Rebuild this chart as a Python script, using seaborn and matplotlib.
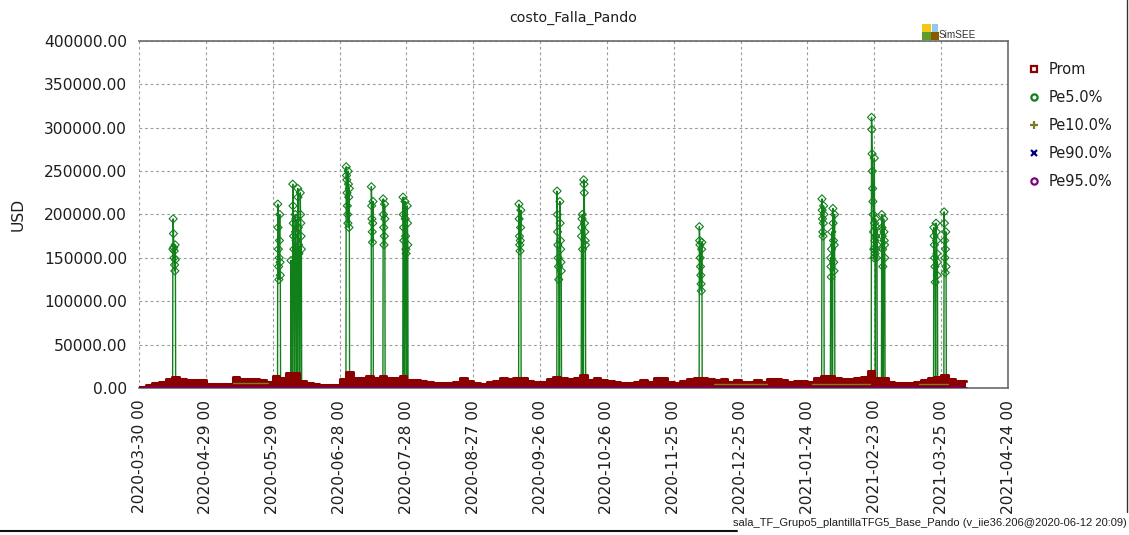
import numpy as np
import pandas as pd
import matplotlib
matplotlib.use("Agg")
import matplotlib.pyplot as plt
import matplotlib.dates as mdates
from matplotlib.lines import Line2D
from matplotlib.patches import Rectangle
from matplotlib.ticker import FuncFormatter
import seaborn as sns

sns.set_theme(style="white")
plt.rcParams["font.family"] = ["DejaVu Sans"]

# ---------------------------------------------------------------- data
title = "costo_Falla_Pando"
y_label = "USD"
run_tag = "sala_TF_Grupo5_plantillaTFG5_Base_Pando (v_iie36.206@2020-06-12 20:09)"
series_labels = ["Prom", "Pe5.0%", "Pe10.0%", "Pe90.0%", "Pe95.0%"]

series_start = "2020-03-30"
series_end = "2021-04-05"
axis_end = "2021-04-24"

# mean failure cost, one level per 3-day block (USD)
prom_step_days = 3
prom_usd = [
    1500, 3500, 5400, 6500, 10000, 12700, 10000, 9500, 9000, 9500,
    5000, 4200, 4200, 4500, 12700, 10000, 10000, 10000, 9000, 7000,
    13800, 11000, 17600, 17600, 8000, 6000, 4500, 4000, 4000, 4000,
    10000, 18000, 11000, 12000, 14000, 11000, 14000, 11000, 12000, 14000,
    9000, 9200, 8000, 7300, 6000, 5400, 6000, 7300, 11000, 8000,
    5400, 4200, 6500, 8000, 12000, 10400, 12000, 11000, 8000, 7300,
    6500, 10400, 13000, 12000, 10000, 12000, 15000, 9000, 11000, 9000,
    8000, 7300, 6000, 6000, 6500, 9000, 7300, 12000, 11000, 7300,
    5400, 8000, 10000, 11000, 12000, 10400, 9000, 10400, 6500, 9000,
    6500, 7300, 9000, 7300, 10000, 10000, 9000, 7300, 8000, 8000,
    6500, 12000, 14000, 14000, 12000, 10400, 10400, 11000, 13000, 20000,
    12000, 11000, 7300, 5400, 5400, 5400, 7300, 9000, 12000, 13000,
    15000, 10400, 8500, 8500,
]

# Pe5.0% failure-cost bursts: start of each burst and its values every 3 hours
pe5_step_hours = 3
pe5_starts = [
    "2020-04-14 05:00", "2020-05-31 07:00", "2020-06-06 05:00", "2020-06-07 00:00",
    "2020-07-01 00:00", "2020-07-12 07:00", "2020-07-17 14:00", "2020-07-26 12:00",
    "2020-09-16 12:00", "2020-10-03 15:00", "2020-10-14 14:00", "2020-12-06 12:00",
    "2021-01-30 12:00", "2021-02-03 10:00", "2021-02-21 18:00", "2021-02-23 14:00",
    "2021-02-26 08:00", "2021-03-21 17:00", "2021-03-26 08:00",
]
pe5_bursts = [
    [160000, 195000, 178000, 162000, 150000, 158000, 142000, 135000, 165000, 148000],
    [212000, 185000, 160000, 140000, 125000, 150000, 170000, 200000, 145000, 130000],
    [147000],
    [235000, 210000, 190000, 175000, 160000, 0, 0, 0, 0,
     200000, 180000, 195000, 170000, 150000, 0, 0, 0, 0,
     230000, 220000, 185000, 165000, 155000, 0, 0, 0, 0,
     225000, 200000, 190000, 175000, 160000],
    [255000, 245000, 240000, 225000, 210000, 200000, 190000, 250000, 235000, 220000, 185000, 230000],
    [232000, 210000, 195000, 180000, 168000, 190000, 215000],
    [218000, 200000, 185000, 165000, 175000, 212000, 195000],
    [220000, 200000, 185000, 170000, 0, 0, 0, 215000, 195000, 175000, 160000, 155000,
     0, 0, 0, 210000, 190000, 165000],
    [212000, 195000, 175000, 165000, 158000, 170000, 185000, 205000],
    [227000, 200000, 180000, 165000, 150000, 140000, 125000, 0, 0, 0,
     215000, 190000, 170000, 160000, 145000, 135000],
    [175000, 185000, 195000, 200000, 160000, 0, 0, 0,
     240000, 235000, 225000, 190000, 180000, 170000, 165000],
    [186000, 170000, 165000, 150000, 140000, 130000, 120000, 112000, 160000, 168000],
    [218000, 205000, 195000, 180000, 175000, 190000, 210000, 200000],
    [150000, 140000, 128000, 160000, 180000, 0, 0, 0,
     207000, 190000, 170000, 145000, 135000, 165000, 200000],
    [312000, 298000, 270000, 250000, 230000, 215000, 200000, 180000, 160000, 150000,
     265000, 190000, 170000, 155000],
    [195000, 175000, 160000, 150000, 185000, 165000],
    [200000, 185000, 175000, 160000, 140000, 0, 0,
     195000, 180000, 170000, 165000, 150000],
    [185000, 175000, 165000, 150000, 140000, 122000, 0, 0,
     190000, 180000, 170000, 155000, 130000, 145000],
    [203000, 190000, 170000, 150000, 133000, 160000, 180000, 140000],
]

# Pe10.0%: periods with a non-zero level
pe10_starts = ["2020-05-11", "2020-12-13", "2021-01-26", "2021-03-15"]
pe10_ends = ["2020-05-27", "2021-01-06", "2021-02-21", "2021-03-28"]
pe10_levels = [5500, 5000, 4500, 4500]

# Pe90.0% and Pe95.0% stay at zero over the whole horizon
pe90_usd = [0, 0]
pe95_usd = [0, 0]

# ---------------------------------------------------------------- styling
RED = "#8b0000"
GREEN = "#11801a"
OLIVE = "#7d7d20"
NAVY = "#000080"
PURPLE = "#800080"
GRID = "#9c9c9c"
FRAME = "#6b6b6b"
TXT = "#1e1e1e"

W, H, DPI = 1129, 535, 100
fig = plt.figure(figsize=(W / DPI, H / DPI), dpi=DPI)
ax = fig.add_axes([139 / W, 1 - 388 / H, (1008 - 139) / W, (388 - 41) / H])

t0 = pd.Timestamp(series_start)
t_end = pd.Timestamp(series_end)

# Pe5.0% frame (zero between bursts)
rows = [(t0, 0.0)]
step = pd.Timedelta(hours=pe5_step_hours)
for start, vals in zip(pe5_starts, pe5_bursts):
    ts = pd.Timestamp(start)
    rows.append((ts - step, 0.0))
    for k, v in enumerate(vals):
        rows.append((ts + k * step, float(v)))
    rows.append((ts + len(vals) * step, 0.0))
rows.append((t_end, 0.0))
pe5 = pd.DataFrame(rows, columns=["time", "usd"]).sort_values("time")

sns.lineplot(data=pe5, x="time", y="usd", color=GREEN, lw=1.0,
             estimator=None, sort=False, ax=ax, zorder=2)
pe5_hi = pe5[pe5["usd"] > 0]
sns.scatterplot(data=pe5_hi, x="time", y="usd", marker="D", s=17,
                facecolor="none", edgecolor=GREEN, linewidth=0.8,
                ax=ax, zorder=3)

# Prom as stepped area
prom_t = pd.date_range(t0, periods=len(prom_usd), freq=f"{prom_step_days}D")
prom = pd.DataFrame({"time": list(prom_t) + [t_end],
                     "usd": prom_usd + [prom_usd[-1]]})
ax.fill_between(prom["time"], prom["usd"], step="post", color=RED, lw=0, zorder=4)
sns.lineplot(data=prom, x="time", y="usd", color=RED, lw=2.2,
             drawstyle="steps-post", estimator=None, ax=ax, zorder=4)

# Pe10.0%: zero baseline plus its raised stretches, each drawn as its own run
p10_rows = [(t0, 0.0, 0), (t_end, 0.0, 0)]
for i, (s, e, lv) in enumerate(zip(pe10_starts, pe10_ends, pe10_levels), start=1):
    p10_rows += [(pd.Timestamp(s), float(lv), i), (pd.Timestamp(e), float(lv), i)]
pe10 = pd.DataFrame(p10_rows, columns=["time", "usd", "run"])
sns.lineplot(data=pe10, x="time", y="usd", units="run", color=OLIVE, lw=1.0,
             estimator=None, ax=ax, zorder=5)

# Pe90.0% / Pe95.0%
flat = pd.DataFrame({"time": [t0, t_end], "p90": pe90_usd, "p95": pe95_usd})
sns.lineplot(data=flat, x="time", y="p90", color=NAVY, lw=1.5, ax=ax, zorder=5)
sns.lineplot(data=flat, x="time", y="p95", color=PURPLE, lw=2.0, ax=ax, zorder=6)

# ---------------------------------------------------------------- axes
ax.set_xlim(t0, pd.Timestamp(axis_end))
ax.set_ylim(0, 400000)
ax.set_xticks(pd.date_range(t0, axis_end, freq="30D"))
ax.xaxis.set_major_formatter(mdates.DateFormatter("%Y-%m-%d %H"))
ax.set_yticks(np.arange(0, 400001, 50000))
ax.yaxis.set_major_formatter(FuncFormatter(lambda v, p: f"{v:.2f}"))
ax.tick_params(axis="both", length=0, labelsize=11.2, colors=TXT, pad=8.5)
plt.setp(ax.get_xticklabels(), rotation=90, va="top", ha="center")

ax.grid(True, color=GRID, linestyle=(0, (2.5, 2.5)), lw=0.8)
ax.set_axisbelow(True)
for side in ("top", "right", "bottom"):
    ax.spines[side].set_color(FRAME)
    ax.spines[side].set_linewidth(1.2)
ax.spines["left"].set_visible(False)

ax.set_xlabel("")
ax.set_ylabel(y_label, fontsize=11.2, color=TXT)
ax.yaxis.set_label_coords(-0.131, 0.5)
ax.set_title(title, fontsize=10.2, color=TXT, pad=13.5)

# legend (markers only)
handles = [
    Line2D([], [], ls="none", marker="s", ms=4.5, mfc="none", mec=RED, mew=1.6),
    Line2D([], [], ls="none", marker="o", ms=4.5, mfc="none", mec=GREEN, mew=1.6),
    Line2D([], [], ls="none", marker="+", ms=6, mec=OLIVE, mew=1.6),
    Line2D([], [], ls="none", marker="x", ms=5, mec=NAVY, mew=1.6),
    Line2D([], [], ls="none", marker="o", ms=4.5, mfc="none", mec=PURPLE, mew=1.6),
]
fig.legend(handles, series_labels, loc="upper left",
           bbox_to_anchor=(1015.5 / W, 1 - 48.5 / H), frameon=False,
           fontsize=10.5, handlelength=0.8, handletextpad=0.6,
           labelspacing=0.9, borderpad=0.4, labelcolor=TXT)

# SimSEE badge above the frame
for (x0, y0, x1, y1, c) in [(922, 24, 931, 31.7, "#f6c617"),
                            (932, 24, 938, 31.7, "#8ec9ef"),
                            (922, 32.3, 931, 40, "#5a9e2a"),
                            (931, 32.3, 939, 40, "#8a5a00")]:
    fig.add_artist(Rectangle((x0 / W, 1 - y1 / H), (x1 - x0) / W, (y1 - y0) / H,
                             transform=fig.transFigure, color=c, lw=0))
fig.text(939 / W, 1 - 40.5 / H, "SimSEE", fontsize=7.2, color="#333333",
         ha="left", va="bottom", family=["Liberation Sans"])

# window frame lines and run tag
fig.add_artist(Line2D([1127 / W, 1127 / W], [1, 1 - 512 / H],
                      transform=fig.transFigure, color="#333333", lw=1.0))
fig.add_artist(Line2D([0, 737 / W], [1 - 531 / H, 1 - 531 / H],
                      transform=fig.transFigure, color="#111111", lw=1.5))
fig.text(1127 / W, 1 - 523 / H, run_tag, fontsize=8.0, color=TXT,
         ha="right", va="center", family=["Liberation Sans"])

fig.savefig("out.png", dpi=DPI)
